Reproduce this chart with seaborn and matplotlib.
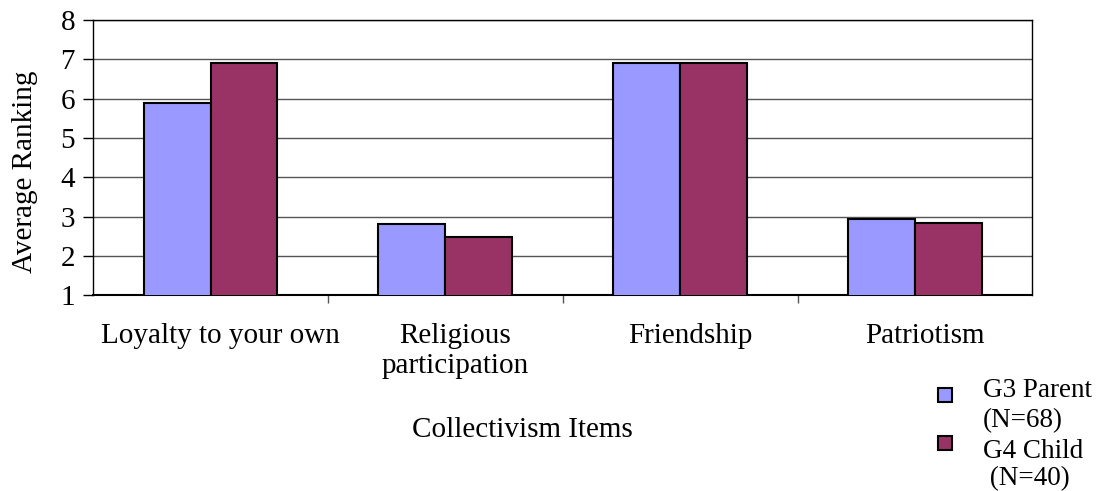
import matplotlib
matplotlib.use("Agg")
import matplotlib.pyplot as plt
import seaborn as sns
import pandas as pd
from matplotlib.patches import Rectangle
from matplotlib.ticker import FixedLocator
from matplotlib.transforms import ScaledTranslation

categories = ["Loyalty to your own", "Religious\nparticipation", "Friendship", "Patriotism"]
g3_parent = [5.88, 2.81, 6.91, 2.94]
g4_child = [6.91, 2.48, 6.91, 2.84]
series_labels = ["G3 Parent\n(N=68)", "G4 Child\n (N=40)"]
colors = ["#9999FF", "#993366"]

df = pd.DataFrame({
    "Item": categories * 2,
    "Value": g3_parent + g4_child,
    "Group": [series_labels[0]] * 4 + [series_labels[1]] * 4,
})

sns.set_theme(style="white")
plt.rcParams["font.family"] = ["Liberation Serif", "DejaVu Serif"]
plt.rcParams.update({"text.color": "black", "axes.labelcolor": "black",
                     "xtick.color": "black", "ytick.color": "black"})

fig = plt.figure(figsize=(10.96, 4.91), dpi=100)
ax = fig.add_axes([0.085, 0.399, 0.857, 0.560])

sns.barplot(data=df, x="Item", y="Value", hue="Group", palette=colors,
            saturation=1, width=0.57, gap=0, edgecolor="black", linewidth=1.5,
            ax=ax, legend=False, zorder=3)

ax.set_ylim(1, 8)
ax.set_xlim(-0.5, 3.5)
ax.set_yticks(range(1, 9))
ax.yaxis.grid(True, color="#555555", linewidth=1.0, zorder=0)
ax.set_axisbelow(True)
for s in ax.spines.values():
    s.set_color("black")
    s.set_linewidth(1.0)
ax.spines["bottom"].set_linewidth(1.5)

ax.tick_params(axis="y", which="major", direction="out", length=7, width=1,
               color="black", labelcolor="black", labelsize=21, left=True, pad=6)
ax.tick_params(axis="x", which="major", length=0, labelsize=21, pad=20,
               labelcolor="black")
ax.xaxis.set_minor_locator(FixedLocator([0.5, 1.5, 2.5]))
ax.tick_params(axis="x", which="minor", direction="out", length=6, width=1,
               color="#555555", bottom=True)
shift = ScaledTranslation(10 / 100, 0, fig.dpi_scale_trans)
for lbl in ax.get_xticklabels():
    lbl.set_transform(lbl.get_transform() + shift)
ax.set_xlabel("")
ax.set_ylabel("Average Ranking", fontsize=21, color="black")
ax.yaxis.set_label_coords(-0.059, 0.45)

fig.text(522 / 1096, 1 - 430 / 491, "Collectivism Items", fontsize=21,
         ha="center", va="center", color="black")

# legend
W, H = 1096, 491
sq = 14
for (cx, cy), c in zip([(945, 395), (945, 443)], colors):
    fig.add_artist(Rectangle(((cx - sq / 2) / W, 1 - (cy + sq / 2) / H),
                             sq / W, sq / H, transform=fig.transFigure,
                             facecolor=c, edgecolor="black", linewidth=1.5))
baselines = [[397, 427], [458, 485]]
for lab, bls in zip(series_labels, baselines):
    for line, b in zip(lab.split("\n"), bls):
        fig.text(983 / W, 1 - b / H, line, fontsize=19.5, ha="left",
                 va="baseline", color="black")

fig.savefig("out.png", dpi=100)
